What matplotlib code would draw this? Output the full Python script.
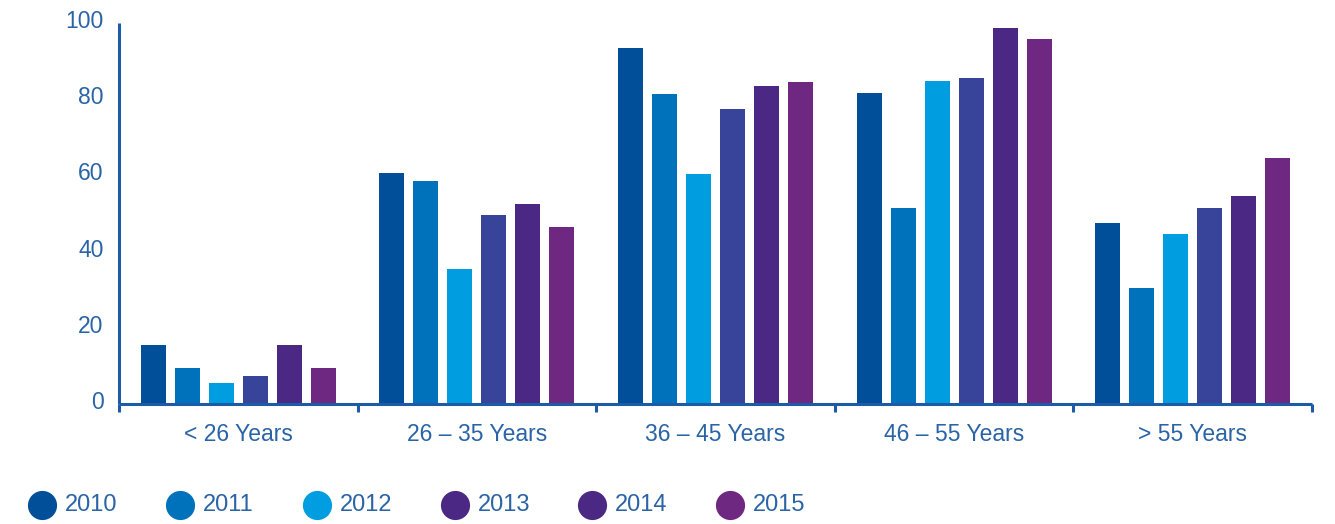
import numpy as np
import matplotlib.pyplot as plt
from matplotlib.lines import Line2D
from matplotlib.transforms import ScaledTranslation

plt.rcParams['font.family'] = ['Liberation Sans', 'DejaVu Sans']

categories = ['< 26 Years', '26 – 35 Years', '36 – 45 Years', '46 – 55 Years', '> 55 Years']
years = ['2010', '2011', '2012', '2013', '2014', '2015']

# one list per year, one value per age band
v2010 = [15.5, 60.6, 93.4, 81.6, 47.5]
v2011 = [9.5, 58.5, 81.4, 51.4, 30.4]
v2012 = [5.5, 35.4, 60.4, 84.8, 44.6]
v2013 = [7.3, 49.6, 77.4, 85.6, 51.4]
v2014 = [15.5, 52.5, 83.5, 98.7, 54.6]
v2015 = [9.5, 46.5, 84.5, 95.8, 64.6]
series = [v2010, v2011, v2012, v2013, v2014, v2015]

bar_colors = ['#004f98', '#0072bb', '#009ee0', '#374499', '#4b2884', '#6e2882']
legend_colors = ['#004f98', '#0072bb', '#009ee0', '#4b2884', '#4b2884', '#6e2882']
axis_color = '#1d5ba6'
text_color = '#2a64a6'

fig = plt.figure(figsize=(13.35, 5.24), dpi=100)
ax = fig.add_axes([119 / 1335, 120 / 524, 1193 / 1335, 381 / 524])

x = np.arange(len(categories))
pitch = 0.1425
width = 0.105
for i, (vals, col) in enumerate(zip(series, bar_colors)):
    ax.bar(x + (i - 2.5) * pitch, vals, width=width, color=col, linewidth=0)

ax.set_xlim(-0.5, len(categories) - 0.5)
ax.set_ylim(0, 100)

for side in ['top', 'right']:
    ax.spines[side].set_visible(False)
for side in ['left', 'bottom']:
    ax.spines[side].set_color(axis_color)
    ax.spines[side].set_linewidth(2.2)
    ax.spines[side].set_capstyle('butt')

ax.set_yticks(np.arange(0, 101, 20))
ax.tick_params(axis='y', length=0, pad=11, labelsize=16.5, labelcolor=text_color)
shift = ScaledTranslation(0, 4 / 100, fig.dpi_scale_trans)
for lbl in ax.get_yticklabels():
    lbl.set_transform(lbl.get_transform() + shift)

ax.set_xticks(x)
ax.set_xticklabels(categories)
ax.tick_params(axis='x', which='major', length=0, pad=14, labelsize=16.5, labelcolor=text_color)
ax.set_xticks(np.arange(-0.5, len(categories)), minor=True)
ax.tick_params(axis='x', which='minor', length=6, width=2.2, color=axis_color, direction='out')

# legend row under the chart
x0, step, y_leg = 42, 137.5, 19
for k, (yr, col) in enumerate(zip(years, legend_colors)):
    cx = x0 + k * step
    fig.add_artist(Line2D([cx / 1335], [y_leg / 524], marker='o', markersize=21,
                          color=col, markeredgewidth=0, transform=fig.transFigure))
    fig.text((cx + 23) / 1335, y_leg / 524, yr, fontsize=17, color=text_color,
             ha='left', va='center')

fig.savefig('out.png', dpi=100)
